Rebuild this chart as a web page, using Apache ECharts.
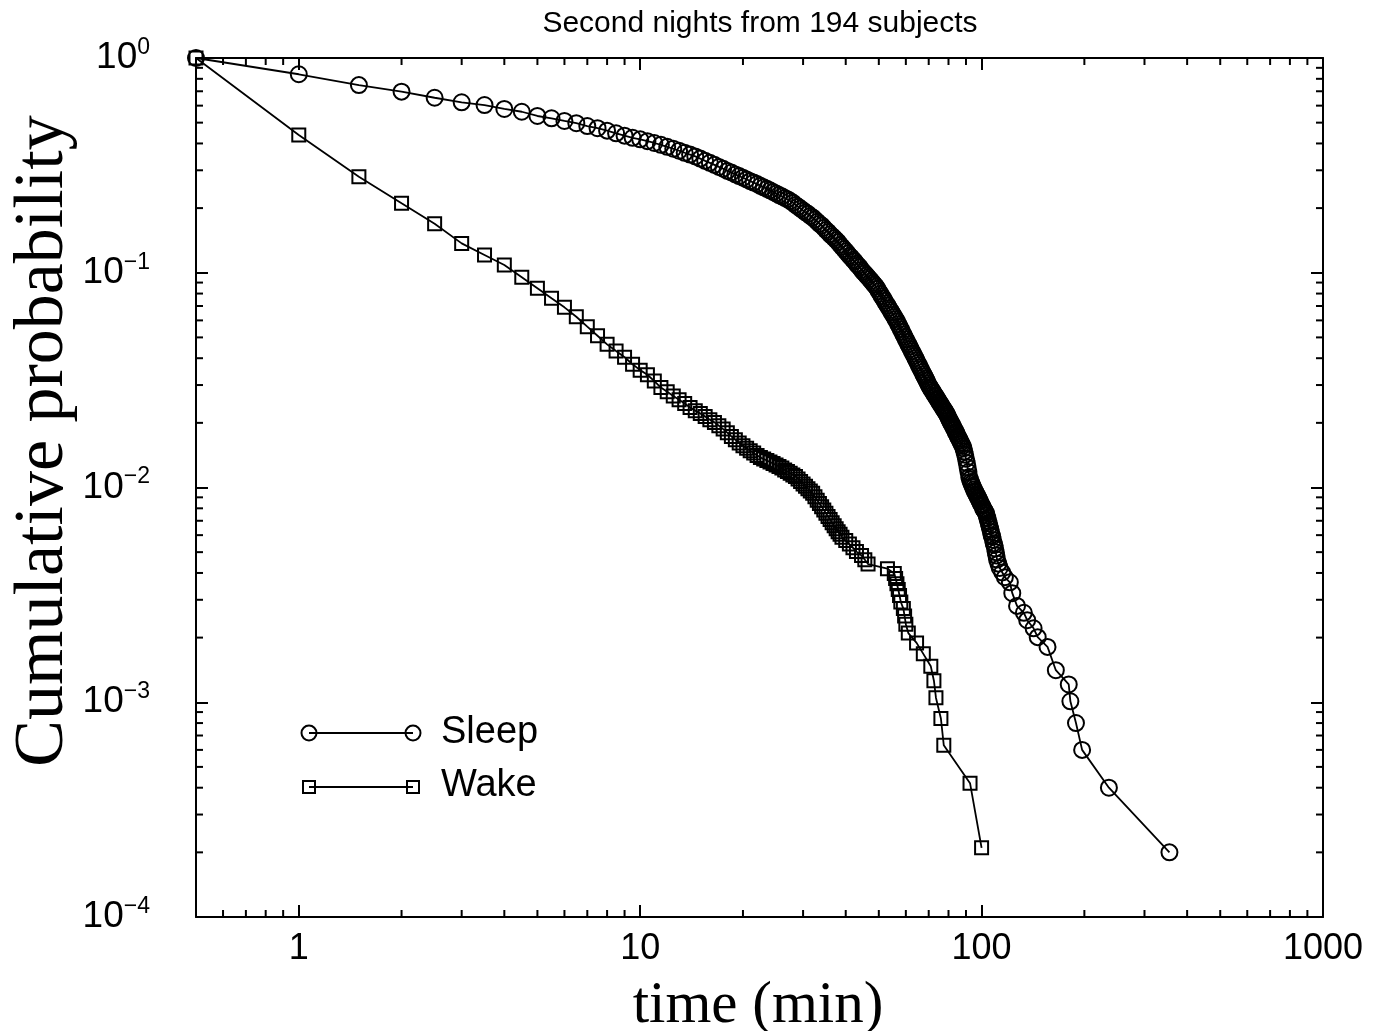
<!DOCTYPE html>
<html>
<head>
<meta charset="utf-8">
<script src="https://cdn.jsdelivr.net/npm/echarts@6/dist/echarts.min.js"></script>
<style>
  html, body { margin: 0; padding: 0; background: #fff; }
  #chart { width: 1373px; height: 1031px; }
</style>
</head>
<body>
<div id="chart"></div>
<script>
// Bout durations (min) and cumulative probability P(duration >= t)
const sleepTime = [
  0.5, 1, 1.5, 2, 2.5, 3, 3.5, 4, 4.5, 5, 5.5, 6, 6.5, 7, 7.5, 8, 8.5, 9, 9.5, 10,
  10.5, 11, 11.5, 12, 12.5, 13, 13.5, 14, 14.5, 15, 15.5, 16, 16.5, 17, 17.5, 18, 18.5, 19, 19.5, 20,
  20.5, 21, 21.5, 22, 22.5, 23, 23.5, 24, 24.5, 25, 25.5, 26, 26.5, 27, 27.5, 28, 28.5, 29, 29.5, 30,
  30.5, 31, 31.5, 32, 32.5, 33, 33.5, 34, 34.5, 35, 35.5, 36, 36.5, 37, 37.5, 38, 38.5, 39, 39.5, 40,
  40.5, 41, 41.5, 42, 42.5, 43, 43.5, 44, 44.5, 45, 45.5, 46, 46.5, 47, 47.5, 48, 48.5, 49, 49.5, 50,
  50.5, 51, 51.5, 52, 52.5, 53, 53.5, 54, 54.5, 55, 55.5, 56, 56.5, 57, 57.5, 58, 58.5, 59, 59.5, 60,
  60.5, 61, 61.5, 62, 62.5, 63, 63.5, 64, 64.5, 65, 65.5, 66, 66.5, 67, 67.5, 68, 68.5, 69, 69.5, 70,
  70.5, 71, 71.5, 72, 72.5, 73, 73.5, 74, 74.5, 75, 75.5, 76, 76.5, 77, 77.5, 78, 78.5, 79, 79.5, 80,
  80.5, 81, 81.5, 82, 82.5, 83, 83.5, 84, 84.5, 85, 85.5, 86, 86.5, 87, 87.5, 88, 88.5, 89, 89.5, 90,
  90.5, 91, 91.5, 92, 92.5, 93, 93.5, 94, 94.5, 95, 95.5, 96, 96.5, 97, 97.5, 98, 98.5, 99, 99.5, 100,
  100.5, 101, 101.5, 102, 102.5, 103, 103.5, 104, 104.5, 105, 105.5, 106, 106.5, 107, 107.5, 108, 108.5, 109, 109.5, 110,
  110.5, 111, 112, 113, 115, 117, 121, 123, 127, 133, 136, 142, 146, 156, 165, 180, 182, 189, 197, 236, 355
];
const sleepProb = [
  1.0, 0.840, 0.748, 0.697, 0.653, 0.622, 0.604, 0.579, 0.562, 0.537, 0.524, 0.509, 0.497, 0.482, 0.471, 0.459, 0.446, 0.435, 0.425, 0.418,
  0.410, 0.402, 0.394, 0.386, 0.378, 0.370, 0.362, 0.355, 0.348, 0.340, 0.332, 0.325, 0.318, 0.311, 0.305, 0.298, 0.293, 0.287, 0.282, 0.277,
  0.272, 0.267, 0.263, 0.259, 0.254, 0.250, 0.246, 0.242, 0.238, 0.234, 0.230, 0.227, 0.223, 0.220, 0.216, 0.212, 0.207, 0.203, 0.199, 0.195,
  0.191, 0.188, 0.184, 0.181, 0.177, 0.173, 0.169, 0.166, 0.162, 0.158, 0.155, 0.151, 0.148, 0.145, 0.142, 0.139, 0.135, 0.132, 0.129, 0.126,
  0.123, 0.120, 0.118, 0.115, 0.113, 0.110, 0.108, 0.106, 0.103, 0.101, 0.0992, 0.0972, 0.0953, 0.0934, 0.0916, 0.0898, 0.0881, 0.0864, 0.0843, 0.0820,
  0.0799, 0.0778, 0.0759, 0.0740, 0.0721, 0.0704, 0.0686, 0.0670, 0.0654, 0.0638, 0.0623, 0.0608, 0.0593, 0.0576, 0.0561, 0.0546, 0.0531, 0.0516, 0.0503, 0.0490,
  0.0477, 0.0465, 0.0453, 0.0442, 0.0431, 0.0420, 0.0410, 0.0400, 0.0390, 0.0380, 0.0371, 0.0362, 0.0354, 0.0345, 0.0337, 0.0330, 0.0322, 0.0315, 0.0307, 0.0300,
  0.0294, 0.0289, 0.0284, 0.0279, 0.0274, 0.0269, 0.0265, 0.0260, 0.0256, 0.0251, 0.0247, 0.0243, 0.0239, 0.0235, 0.0231, 0.0228, 0.0224, 0.0220, 0.0216, 0.0211,
  0.0207, 0.0203, 0.0199, 0.0196, 0.0192, 0.0188, 0.0185, 0.0181, 0.0178, 0.0174, 0.0171, 0.0168, 0.0165, 0.0162, 0.0159, 0.0156, 0.0152, 0.0147, 0.0142, 0.0136,
  0.0130, 0.0124, 0.0118, 0.0112, 0.0109, 0.0106, 0.0104, 0.0102, 0.0100, 0.0098, 0.0096, 0.0095, 0.0093, 0.0092, 0.0090, 0.0089, 0.0087, 0.0086, 0.0084, 0.0083,
  0.0082, 0.0080, 0.0079, 0.0078, 0.0077, 0.0076, 0.0074, 0.0072, 0.0070, 0.0068, 0.0066, 0.0064, 0.0062, 0.0060, 0.0059, 0.0057, 0.0055, 0.0054, 0.0052, 0.0050,
  0.00482, 0.00462, 0.00442, 0.00422, 0.00402, 0.00382, 0.00362, 0.00322, 0.00281, 0.00261, 0.00241, 0.00221, 0.00201, 0.00181, 0.00141, 0.00121, 0.00101, 0.00080, 0.00060, 0.00040, 0.00020
];

const wakeTime = [
  0.5, 1, 1.5, 2, 2.5, 3, 3.5, 4, 4.5, 5, 5.5, 6, 6.5, 7, 7.5, 8, 8.5, 9, 9.5, 10,
  10.5, 11, 11.5, 12, 12.5, 13, 13.5, 14, 14.5, 15, 15.5, 16, 16.5, 17, 17.5, 18, 18.5, 19, 19.5, 20,
  20.5, 21, 21.5, 22, 22.5, 23, 23.5, 24, 24.5, 25, 25.5, 26, 26.5, 27, 27.5, 28, 28.5, 29, 29.5, 30,
  30.5, 31, 31.5, 32, 32.5, 33, 33.5, 34, 34.5, 35, 35.5, 36, 36.5, 37, 37.5, 38, 38.5, 39, 40, 41,
  42, 43, 44.5, 45.5, 46.5, 53, 55.5, 56, 56.5, 57, 57.5, 58, 59, 59.5, 60, 61, 64.5, 67.5, 71, 72.5,
  73.5, 76, 77.5, 92.5, 100
];
const wakeProb = [
  1.0, 0.438, 0.280, 0.2105, 0.169, 0.137, 0.121, 0.1086, 0.0952, 0.0846, 0.0760, 0.0690, 0.0624, 0.0561, 0.0509, 0.0464, 0.0432, 0.0404, 0.0375, 0.0352,
  0.0335, 0.0313, 0.0292, 0.0279, 0.0267, 0.0256, 0.0246, 0.0236, 0.0228, 0.0221, 0.0214, 0.0207, 0.0201, 0.0194, 0.0187, 0.0180, 0.0173, 0.0167, 0.0161, 0.01566,
  0.01524, 0.01484, 0.01447, 0.01411, 0.0138, 0.01357, 0.01335, 0.01314, 0.01293, 0.01273, 0.01253, 0.01231, 0.01208, 0.01186, 0.01164, 0.01144, 0.01124, 0.01096, 0.01067, 0.01039,
  0.01013, 0.00988, 0.00963, 0.00940, 0.00905, 0.00873, 0.00842, 0.00813, 0.00785, 0.00758, 0.00733, 0.00709, 0.00685, 0.00663, 0.00642, 0.00622, 0.00605, 0.00587, 0.00566, 0.00545,
  0.00524, 0.00503, 0.00482, 0.00461, 0.00440, 0.00419, 0.00398, 0.00377, 0.00356, 0.00335, 0.00314, 0.00293, 0.00273, 0.00252, 0.00231, 0.00210, 0.00189, 0.00168, 0.00147, 0.00126,
  0.00105, 0.00084, 0.00063, 0.00042, 0.00021
];

// Axis ranges and tick labels
const xRange = [0.5, 1000];
const yRange = [1e-4, 1];
const xTickLabels = ['1', '10', '100', '1000'];
const yTickExponents = ['0', '\u22121', '\u22122', '\u22123', '\u22124'];

const SANS = '"Liberation Sans", Arial, Helvetica, sans-serif';
const SERIF = '"Liberation Serif", "Times New Roman", serif';

// minor ticks at 2..9 within each decade
const xMinor = [];
[0.1, 1, 10, 100].forEach(d => { for (let m = 2; m <= 9; m++) { const v = +(m * d).toPrecision(6); if (v > xRange[0] && v < xRange[1]) xMinor.push(v); } });
const yMinor = [];
[1e-4, 1e-3, 1e-2, 1e-1].forEach(d => { for (let m = 2; m <= 9; m++) yMinor.push(+(m * d).toPrecision(6)); });

function decadeIndex(v) {
  const e = Math.log10(v);
  const r = Math.round(e);
  return Math.abs(e - r) < 1e-6 ? r : null;
}

const frameLine = { show: true, onZero: false, lineStyle: { color: '#000', width: 2 } };
const majorTick = { show: true, inside: true, length: 12, lineStyle: { color: '#000', width: 2 } };

const chart = echarts.init(document.getElementById('chart'), null, { renderer: 'canvas' });

chart.setOption({
  animation: false,
  backgroundColor: '#fff',
  grid: { left: 196, top: 58, width: 1127, height: 859, containLabel: false },
  xAxis: [
    {
      type: 'log', logBase: 10, min: xRange[0], max: xRange[1], position: 'bottom',
      axisLine: frameLine, axisTick: majorTick, splitLine: { show: false }, minorTick: { show: false },
      axisLabel: {
        margin: 14, fontSize: 36, color: '#000', fontFamily: SANS,
        formatter: v => { const e = decadeIndex(v); return (e === null || e < 0) ? '' : xTickLabels[e]; }
      }
    },
    {
      type: 'log', logBase: 10, min: xRange[0], max: xRange[1], position: 'top',
      axisLine: frameLine, axisTick: majorTick, splitLine: { show: false }, axisLabel: { show: false }
    }
  ],
  yAxis: [
    {
      type: 'log', logBase: 10, min: yRange[0], max: yRange[1], position: 'left',
      axisLine: frameLine, axisTick: majorTick, splitLine: { show: false },
      axisLabel: {
        margin: 46, color: '#000',
        formatter: v => { const e = decadeIndex(v); return e === null ? '' : '{b|10}{s|' + yTickExponents[-e] + '}'; },
        rich: {
          b: { fontSize: 37, lineHeight: 44, fontFamily: SANS, color: '#000' },
          s: { fontSize: 23, lineHeight: 22, verticalAlign: 'top', fontFamily: SANS, color: '#000' }
        }
      }
    },
    {
      type: 'log', logBase: 10, min: yRange[0], max: yRange[1], position: 'right',
      axisLine: frameLine, axisTick: majorTick, splitLine: { show: false }, axisLabel: { show: false }
    }
  ],
  series: [
    {
      name: 'Sleep', type: 'line',
      data: sleepTime.map((t, i) => [t, sleepProb[i]]),
      symbol: 'circle', symbolSize: 16, clip: false, z: 4,
      lineStyle: { color: '#000', width: 1.8 },
      itemStyle: { color: 'rgba(0,0,0,0)', borderColor: '#000', borderWidth: 2 },
      emphasis: { disabled: true }, silent: true
    },
    {
      name: 'Wake', type: 'line',
      data: wakeTime.map((t, i) => [t, wakeProb[i]]),
      symbol: 'rect', symbolSize: 13, clip: false, z: 4,
      lineStyle: { color: '#000', width: 1.8 },
      itemStyle: { color: 'rgba(0,0,0,0)', borderColor: '#000', borderWidth: 2 },
      emphasis: { disabled: true }, silent: true
    },
    {
      // minor ticks on the bottom and top edges
      type: 'custom', silent: true, clip: false, z: 3,
      data: xMinor.map(v => [v, yRange[0]]),
      renderItem: (params, api) => {
        const v = api.value(0);
        const b = api.coord([v, yRange[0]]);
        const t = api.coord([v, yRange[1]]);
        return { type: 'group', children: [
          { type: 'line', shape: { x1: b[0], y1: b[1], x2: b[0], y2: b[1] - 7 }, style: { stroke: '#000', lineWidth: 2 } },
          { type: 'line', shape: { x1: t[0], y1: t[1], x2: t[0], y2: t[1] + 7 }, style: { stroke: '#000', lineWidth: 2 } }
        ] };
      }
    },
    {
      // minor ticks on the left and right edges
      type: 'custom', silent: true, clip: false, z: 3,
      data: yMinor.map(v => [xRange[0], v]),
      renderItem: (params, api) => {
        const v = api.value(1);
        const l = api.coord([xRange[0], v]);
        const r = api.coord([xRange[1], v]);
        return { type: 'group', children: [
          { type: 'line', shape: { x1: l[0], y1: l[1], x2: l[0] + 7, y2: l[1] }, style: { stroke: '#000', lineWidth: 2 } },
          { type: 'line', shape: { x1: r[0], y1: r[1], x2: r[0] - 7, y2: r[1] }, style: { stroke: '#000', lineWidth: 2 } }
        ] };
      }
    }
  ],
  graphic: [
    { type: 'text', x: 760, y: 24, style: { text: 'Second nights from 194 subjects', font: '30px ' + SANS, fill: '#000', align: 'center', verticalAlign: 'middle' } },
    { type: 'text', x: 758, y: 1006, style: { text: 'time (min)', font: '59px ' + SERIF, fill: '#000', align: 'center', verticalAlign: 'middle' } },
    { type: 'text', x: 44, y: 441, rotation: Math.PI / 2, style: { text: 'Cumulative probability', font: '70px ' + SERIF, fill: '#000', align: 'center', verticalAlign: 'middle' } },
    // legend
    { type: 'line', shape: { x1: 309, y1: 733, x2: 413, y2: 733 }, style: { stroke: '#000', lineWidth: 1.8 } },
    { type: 'circle', shape: { cx: 309, cy: 733, r: 7.5 }, style: { fill: 'rgba(0,0,0,0)', stroke: '#000', lineWidth: 2 } },
    { type: 'circle', shape: { cx: 413, cy: 733, r: 7.5 }, style: { fill: 'rgba(0,0,0,0)', stroke: '#000', lineWidth: 2 } },
    { type: 'text', x: 441, y: 733, style: { text: 'Sleep', font: '38px ' + SANS, fill: '#000', align: 'left', verticalAlign: 'middle' } },
    { type: 'line', shape: { x1: 309, y1: 787, x2: 413, y2: 787 }, style: { stroke: '#000', lineWidth: 1.8 } },
    { type: 'rect', shape: { x: 303, y: 781, width: 12, height: 12 }, style: { fill: 'rgba(0,0,0,0)', stroke: '#000', lineWidth: 2 } },
    { type: 'rect', shape: { x: 407, y: 781, width: 12, height: 12 }, style: { fill: 'rgba(0,0,0,0)', stroke: '#000', lineWidth: 2 } },
    { type: 'text', x: 441, y: 786, style: { text: 'Wake', font: '38px ' + SANS, fill: '#000', align: 'left', verticalAlign: 'middle' } }
  ]
});
</script>
</body>
</html>
